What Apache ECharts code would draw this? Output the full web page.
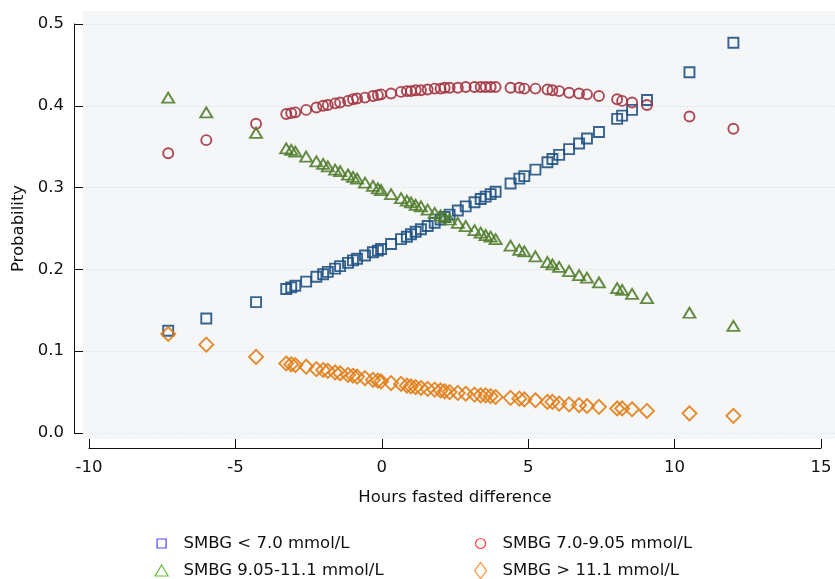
<!DOCTYPE html>
<html>
<head>
<meta charset="utf-8">
<script src="https://cdn.jsdelivr.net/npm/echarts@6/dist/echarts.min.js"></script>
<style>
html,body{margin:0;padding:0;background:#fff;}
#chart{width:835px;height:579px;}
</style>
</head>
<body>
<div id="chart"></div>
<script>
const xHours = [-7.3, -6.0, -4.3, -3.27, -3.1, -2.96, -2.59, -2.24, -2.01, -1.85, -1.6, -1.43, -1.16, -0.99, -0.85, -0.58, -0.31, -0.14, -0.03, 0.31, 0.65, 0.85, 0.99, 1.15, 1.33, 1.56, 1.8, 2.0, 2.14, 2.31, 2.59, 2.86, 3.16, 3.37, 3.54, 3.71, 3.88, 4.39, 4.69, 4.86, 5.24, 5.65, 5.82, 6.05, 6.39, 6.73, 7.0, 7.41, 8.03, 8.2, 8.54, 9.05, 10.5, 12.0];
const probLow = [.125,.140,.160,.176,.178,.180,.185,.191,.194,.197,.201,.204,.208,.211,.213,.217,.221,.223,.225,.231,.237,.240,.243,.246,.249,.253,.257,.261,.264,.267,.272,.277,.282,.286,.289,.292,.295,.305,.311,.314,.322,.331,.335,.340,.347,.354,.360,.368,.384,.388,.395,.407,.441,.477];
const probMid = [.342,.358,.378,.390,.391,.392,.395,.398,.400,.401,.403,.404,.406,.408,.409,.410,.412,.413,.414,.415,.417,.418,.418,.419,.419,.420,.421,.421,.422,.422,.422,.423,.423,.423,.423,.423,.423,.422,.422,.421,.421,.420,.419,.418,.416,.415,.414,.412,.408,.406,.404,.401,.387,.372];
const probHigh = [.410,.392,.367,.348,.346,.344,.338,.332,.329,.326,.322,.320,.316,.313,.311,.306,.302,.299,.297,.292,.287,.284,.282,.279,.277,.273,.269,.266,.264,.261,.257,.253,.248,.245,.242,.240,.237,.229,.224,.222,.216,.209,.206,.203,.198,.193,.190,.184,.177,.175,.170,.165,.147,.131];
const probVeryHigh = [.121,.108,.093,.085,.084,.083,.081,.078,.077,.076,.074,.073,.071,.070,.069,.067,.065,.064,.063,.061,.060,.058,.057,.056,.055,.054,.053,.052,.051,.050,.049,.048,.047,.046,.046,.045,.044,.043,.042,.041,.040,.038,.038,.036,.035,.034,.033,.032,.030,.030,.029,.027,.024,.021];
const seriesNames = ['SMBG < 7.0 mmol/L', 'SMBG 7.0-9.05 mmol/L', 'SMBG 9.05-11.1 mmol/L', 'SMBG > 11.1 mmol/L'];
const xTicks = [-10, 15, 5];
const yTicks = [0, 0.5, 0.1];

const pair = arr => xHours.map((x, i) => [x, arr[i]]);
const font = 'DejaVu Sans, Verdana, sans-serif';
const fs = 16.5;

function sc(name, data, symbol, size, color) {
  return {
    type: 'scatter', name: name, xAxisIndex: 1, yAxisIndex: 1,
    data: pair(data), symbol: symbol, symbolSize: size,
    itemStyle: { color: 'transparent', borderColor: color, borderWidth: 1.9, opacity: 0.88 },
    emphasis: { disabled: true }, silent: true
  };
}

function leg(name, icon, color, left, top, w, h, pad) {
  return {
    left: left, top: top, padding: 0, itemWidth: w, itemHeight: h, selectedMode: false,
    textStyle: { color: '#111', fontSize: fs, fontFamily: font, padding: [0, 0, 0, pad] },
    data: [{ name: name, icon: icon, itemStyle: { color: 'transparent', borderColor: color, borderWidth: 1.2 } }]
  };
}

const chart = echarts.init(document.getElementById('chart'), null, { renderer: 'canvas' });
chart.setOption({
  animation: false,
  backgroundColor: '#ffffff',
  grid: [
    { left: 83, right: 0, top: 11, bottom: 140, show: true, backgroundColor: '#f5f6f7', borderWidth: 0 },
    { left: 83, right: 0, top: 24, bottom: 146 },
    { left: 89, right: 14, top: 24, bottom: 146 }
  ],
  xAxis: [
    { gridIndex: 0, show: false, min: 0, max: 1 },
    { gridIndex: 1, type: 'value', show: false, min: -10.21, max: 15.47 },
    { gridIndex: 2, type: 'value', min: xTicks[0], max: xTicks[1], interval: xTicks[2], offset: 15,
      axisLine: { show: true, onZero: false, lineStyle: { color: '#111', width: 1 } },
      axisTick: { show: true, inside: true, length: 9, lineStyle: { color: '#111' } },
      axisLabel: { margin: 11, color: '#111', fontSize: fs, fontFamily: font },
      splitLine: { show: false },
      name: 'Hours fasted difference', nameLocation: 'middle', nameGap: 41,
      nameTextStyle: { color: '#111', fontSize: fs, fontFamily: font } }
  ],
  yAxis: [
    { gridIndex: 0, show: false, min: 0, max: 1 },
    { gridIndex: 1, type: 'value', min: yTicks[0], max: yTicks[1], interval: yTicks[2], offset: 9,
      axisLine: { show: true, onZero: false, lineStyle: { color: '#111', width: 1 } },
      axisTick: { show: true, inside: true, length: 9, lineStyle: { color: '#111' } },
      axisLabel: { margin: 10, color: '#111', fontSize: fs, fontFamily: font, formatter: v => v.toFixed(1) },
      splitLine: { show: true, lineStyle: { color: '#e2e8eb', width: 1, type: [2, 1] } },
      name: 'Probability', nameLocation: 'middle', nameGap: 46, nameRotate: 90,
      nameTextStyle: { color: '#111', fontSize: fs, fontFamily: font } },
    { gridIndex: 2, type: 'value', show: false, min: 0, max: 0.5 }
  ],
  legend: [
    leg(seriesNames[0], 'rect', '#3030ff', 156.5, 535, 9, 9, 12.5),
    leg(seriesNames[2], 'triangle', '#4cb81e', 154.5, 562, 13, 11, 10.5),
    leg(seriesNames[1], 'circle', '#ff2a2a', 475, 535, 10, 10, 12),
    leg(seriesNames[3], 'diamond', '#ff8520', 474, 562, 12, 16, 11)
  ],
  series: [
    sc(seriesNames[0], probLow, 'rect', 10, '#1b4f82'),
    sc(seriesNames[1], probMid, 'circle', 10, '#a3313d'),
    sc(seriesNames[2], probHigh, 'triangle', [12, 10], '#4e7c2a'),
    sc(seriesNames[3], probVeryHigh, 'diamond', [14, 14], '#e07c12')
  ]
});
</script>
</body>
</html>
